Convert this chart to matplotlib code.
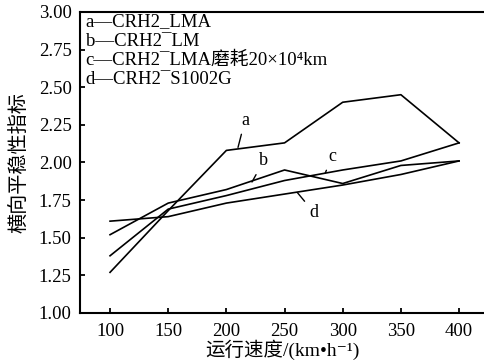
import matplotlib
matplotlib.use("Agg")
import matplotlib.pyplot as plt

plt.rcParams['font.family'] = ['Liberation Serif', 'Noto Sans CJK SC', 'DejaVu Serif']
plt.rcParams['axes.unicode_minus'] = False

# data
speed = [100, 150, 200, 250, 300, 350, 400]
line_a = [1.27, 1.68, 2.08, 2.13, 2.40, 2.45, 2.13]
line_b = [1.52, 1.73, 1.82, 1.95, 1.86, 1.98, 2.01]
line_c = [1.38, 1.69, 1.78, 1.88, 1.95, 2.01, 2.13]
line_d = [1.61, 1.64, 1.73, 1.79, 1.85, 1.92, 2.01]

legend_lines = ["a\u2014CRH2_LMA",
                "b\u2014CRH2\u00afLM",
                "c\u2014CRH2\u00afLMA磨耗20\u00d710\u2074km",
                "d\u2014CRH2\u00afS1002G"]
yticks = [1.00, 1.25, 1.50, 1.75, 2.00, 2.25, 2.50, 2.75, 3.00]
xticks = [100, 150, 200, 250, 300, 350, 400]

fig = plt.figure(figsize=(4.85, 3.61), dpi=100)
ax = fig.add_axes([0.165, 0.133, 0.835, 0.834])

for ys in (line_a, line_b, line_c, line_d):
    ax.plot(speed, ys, color="black", lw=1.2)

ax.set_xlim(74.2, 422.3)
ax.set_ylim(1.0, 3.0)
ax.set_xticks(xticks)
ax.set_yticks(yticks)
ax.set_yticklabels([f"{v:.2f}" for v in yticks])
ax.tick_params(direction="in", length=3.5, width=1.3, labelsize=13.5)
ax.tick_params(axis="y", pad=6)
ax.tick_params(axis="x", pad=7)
ax.spines["right"].set_visible(False)
for s in ("left", "bottom", "top"):
    ax.spines[s].set_linewidth(1.5)

ax.set_xlabel("运行速度/(km\u2022h\u207b\u00b9)", fontsize=14, labelpad=0)
ax.set_ylabel("横向平稳性指标", fontsize=14.5, labelpad=6)

# legend as plain text lines
for i, txt in enumerate(legend_lines):
    ax.text(0.014, 0.967 - i * 0.064, txt, transform=ax.transAxes,
            fontsize=13.5, va="center", ha="left")

# curve labels with leader lines
labels = [("a", (216, 2.28), (210, 2.10)),
          ("b", (232, 2.01), (222, 1.87)),
          ("c", (291, 2.04), (285, 1.93)),
          ("d", (275, 1.67), (261, 1.80))]
for name, txt_xy, pt in labels:
    ax.annotate(name, xy=pt, xytext=txt_xy, fontsize=13, ha="center", va="center",
                arrowprops=dict(arrowstyle="-", color="black", lw=1.0,
                                shrinkA=2, shrinkB=0))

fig.savefig("out.png", dpi=100)
